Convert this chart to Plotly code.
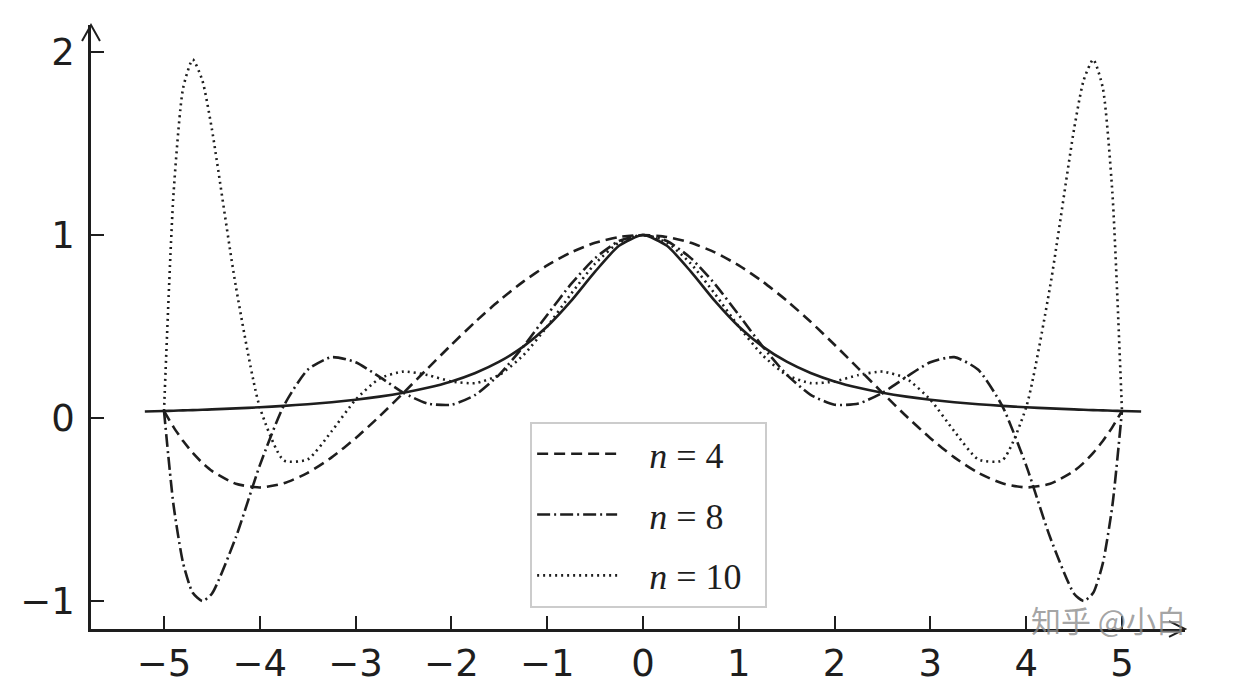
import plotly.graph_objects as go

# ---- data ----
x_nodes = [-5, -4.9, -4.8, -4.7, -4.6, -4.5, -4.25, -4, -3.75, -3.5, -3.25, -3, -2.75, -2.5,
           -2.25, -2, -1.75, -1.5, -1.25, -1, -0.75, -0.5, -0.25, 0, 0.25, 0.5, 0.75, 1,
           1.25, 1.5, 1.75, 2, 2.25, 2.5, 2.75, 3, 3.25, 3.5, 3.75, 4, 4.25, 4.5, 4.6,
           4.7, 4.8, 4.9, 5]

y_n4 = [0.0385, -0.0496, -0.1258, -0.1907, -0.2450, -0.2891, -0.3595, -0.3793, -0.3569,
        -0.2998, -0.2153, -0.1101, 0.0095, 0.1379, 0.2698, 0.4005, 0.5258, 0.6419, 0.7456,
        0.8342, 0.9054, 0.9576, 0.9893, 1.0, 0.9893, 0.9576, 0.9054, 0.8342, 0.7456, 0.6419,
        0.5258, 0.4005, 0.2698, 0.1379, 0.0095, -0.1101, -0.2153, -0.2998, -0.3569, -0.3793,
        -0.3595, -0.2891, -0.2450, -0.1907, -0.1258, -0.0496, 0.0385]

y_n8 = [0.0385, -0.4781, -0.7942, -0.9554, -1.0001, -0.9601, -0.6519, -0.2587, 0.0664,
        0.2638, 0.3327, 0.3049, 0.2251, 0.1379, 0.0794, 0.0726, 0.1266, 0.2374, 0.3902,
        0.5636, 0.7328, 0.8740, 0.9674, 1.0, 0.9674, 0.8740, 0.7328, 0.5636, 0.3902, 0.2374,
        0.1266, 0.0726, 0.0794, 0.1379, 0.2251, 0.3049, 0.3327, 0.2638, 0.0664, -0.2587,
        -0.6519, -0.9601, -1.0001, -0.9554, -0.7942, -0.4781, 0.0385]

y_n10 = [0.0385, 1.2303, 1.8044, 1.9590, 1.8458, 1.5787, 0.7195, 0.0588, -0.2315, -0.2262,
         -0.0726, 0.1, 0.2156, 0.2538, 0.2350, 0.2, 0.1906, 0.2353, 0.3426, 0.5, 0.6790,
         0.8434, 0.9586, 1.0, 0.9586, 0.8434, 0.6790, 0.5, 0.3426, 0.2353, 0.1906, 0.2,
         0.2350, 0.2538, 0.2156, 0.1, -0.0726, -0.2262, -0.2315, 0.0588, 0.7195, 1.5787,
         1.8458, 1.9590, 1.8044, 1.2303, 0.0385]

x_func = [-5.2, -5, -4.9, -4.8, -4.7, -4.6, -4.5, -4.25, -4, -3.75, -3.5, -3.25, -3, -2.75,
          -2.5, -2.25, -2, -1.75, -1.5, -1.25, -1, -0.75, -0.5, -0.25, 0, 0.25, 0.5, 0.75,
          1, 1.25, 1.5, 1.75, 2, 2.25, 2.5, 2.75, 3, 3.25, 3.5, 3.75, 4, 4.25, 4.5, 4.6,
          4.7, 4.8, 4.9, 5, 5.2]

y_func = [0.0357, 0.0385, 0.0400, 0.0416, 0.0433, 0.0451, 0.0471, 0.0525, 0.0588, 0.0664,
          0.0755, 0.0865, 0.1, 0.1168, 0.1379, 0.1649, 0.2, 0.2462, 0.3077, 0.3902, 0.5,
          0.64, 0.8, 0.9412, 1.0, 0.9412, 0.8, 0.64, 0.5, 0.3902, 0.3077, 0.2462, 0.2,
          0.1649, 0.1379, 0.1168, 0.1, 0.0865, 0.0755, 0.0664, 0.0588, 0.0525, 0.0471,
          0.0451, 0.0433, 0.0416, 0.0400, 0.0385, 0.0357]

series_names = ["\u00a0\u00a0\u00a0<i>n</i> = 4\u00a0\u00a0", "\u00a0\u00a0\u00a0<i>n</i> = 8\u00a0\u00a0",
                "\u00a0\u00a0\u00a0<i>n</i> = 10\u00a0\u00a0"]
x_ticks = [-5, -4, -3, -2, -1, 0, 1, 2, 3, 4, 5]
x_ticktext = ["\u22125", "\u22124", "\u22123", "\u22122", "\u22121", "0", "1", "2", "3", "4", "5"]
y_ticks = [-1, 0, 1, 2]
y_ticktext = ["\u22121", "0", "1", "2"]

INK = "#1e1e1e"

fig = go.Figure()
fig.add_trace(go.Scatter(x=x_func, y=y_func, mode="lines", showlegend=False,
                         line=dict(color=INK, width=2.6, shape="spline", smoothing=0.6)))
dashes = ["11px,6px", "13px,4px,2px,4px", "2px,4px"]
for name, ys, dash in zip(series_names, [y_n4, y_n8, y_n10], dashes):
    fig.add_trace(go.Scatter(x=x_nodes, y=ys, mode="lines", name=name, legendgroup=name,
                             line=dict(color=INK, width=2.6, dash=dash,
                                       shape="spline", smoothing=0.6)))

axis_font = dict(family="DejaVu Sans", size=37, color=INK)
fig.update_layout(
    width=1232, height=685,
    margin=dict(l=83, r=55, t=17, b=64, autoexpand=False),
    paper_bgcolor="white", plot_bgcolor="white",
    xaxis=dict(range=[-5.762, 5.658], tickvals=x_ticks, ticktext=x_ticktext,
               ticks="inside", ticklen=13, tickwidth=2, tickcolor=INK,
               showline=True, linecolor=INK, linewidth=2.5, automargin=False,
               showgrid=False, zeroline=False, tickfont=axis_font, ticklabelstandoff=0),
    yaxis=dict(range=[-1.153, 2.148], tickvals=y_ticks, ticktext=y_ticktext,
               ticks="inside", ticklen=13, tickwidth=2, tickcolor=INK,
               showline=True, linecolor=INK, linewidth=2.5, automargin=False,
               showgrid=False, zeroline=False, tickfont=axis_font, ticklabelstandoff=6),
    legend=dict(x=0.4014, y=0.343, xanchor="left", yanchor="top",
                bgcolor="white", bordercolor="#cccccc", borderwidth=2,
                font=dict(family="Liberation Serif", size=36, color=INK),
                tracegroupgap=11, itemwidth=80),
    showlegend=True,
)

# axis arrowheads
fig.add_shape(type="path", xref="paper", yref="paper",
              path="M -0.0082,0.9735 L 0,1 L 0.0082,0.9735",
              line=dict(color=INK, width=2))
fig.add_shape(type="path", xref="paper", yref="paper",
              path="M 0.9854,0.0132 L 1,0 L 0.9854,-0.0132",
              line=dict(color=INK, width=2))

# watermark
fig.add_annotation(text="知乎 @小白", xref="paper", yref="paper", x=0.93, y=0.016,
                   showarrow=False, xanchor="center", yanchor="middle",
                   font=dict(family="Noto Sans CJK SC", size=30, color="rgba(140,140,140,0.8)"))

fig.write_html("out.html")
